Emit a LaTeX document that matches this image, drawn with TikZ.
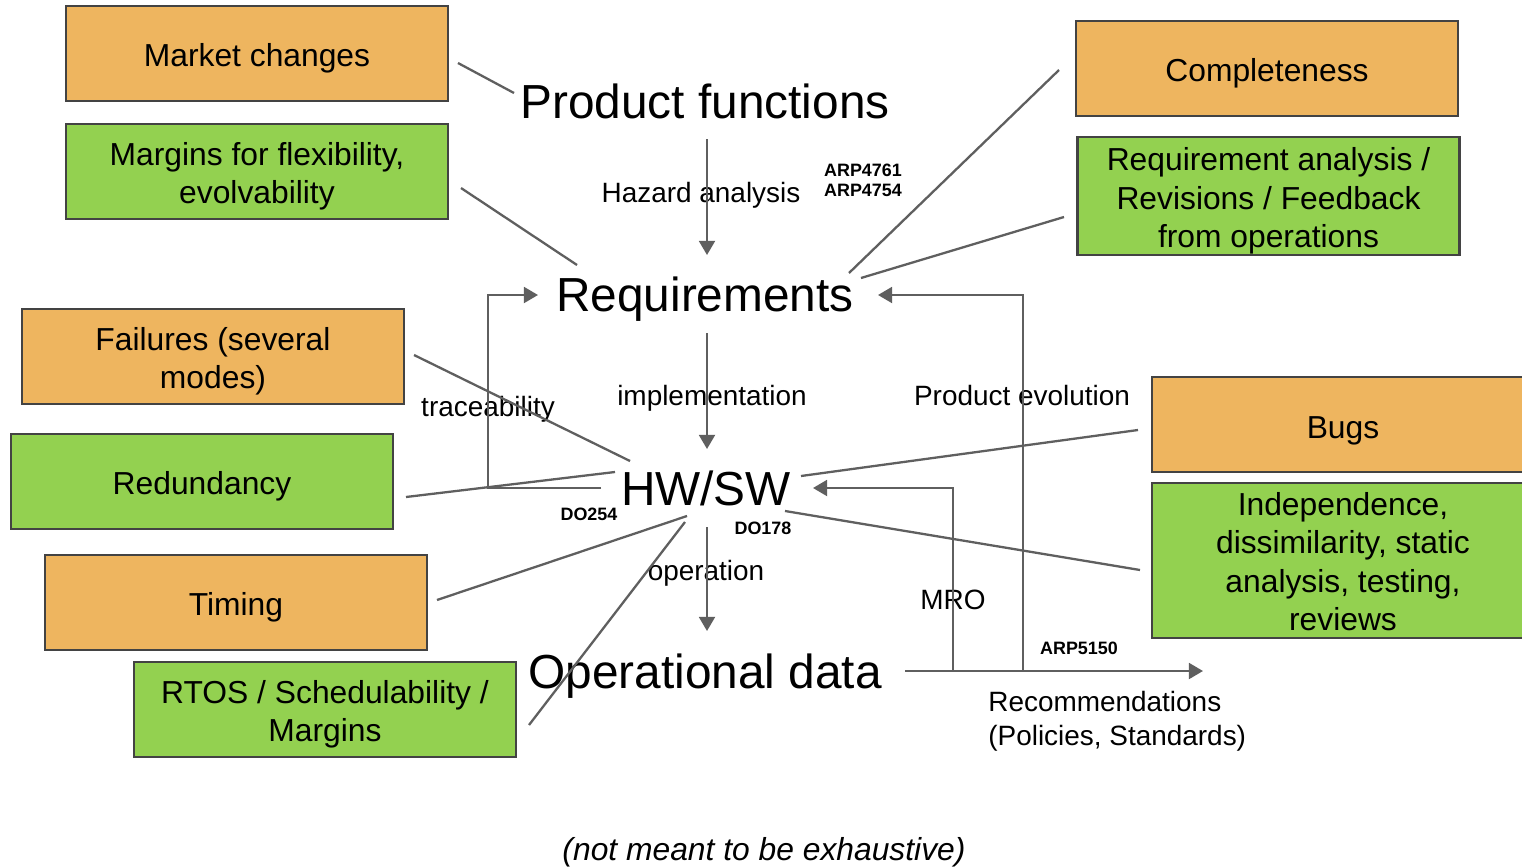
\documentclass[tikz,border=0pt]{standalone}
\usepackage{fontspec}
\setmainfont{Liberation Sans}
\usetikzlibrary{arrows.meta}
\definecolor{boxorange}{HTML}{EEB55F}
\definecolor{boxgreen}{HTML}{93D150}
\definecolor{boxedge}{HTML}{434343}
\definecolor{lncol}{HTML}{5F5F5F}
\newcommand{\boxfont}{\fontsize{18.1pt}{21.8pt}\selectfont}
\begin{document}
\begin{tikzpicture}[x=0.02cm,y=-0.02cm,
  box/.style={draw=boxedge, line width=1.3pt, minimum width=7.64cm, inner sep=0pt, outer sep=0pt},
  obox/.style={box, fill=boxorange},
  gbox/.style={box, fill=boxgreen},
  boxtxt/.style={inner sep=0pt, align=center, font=\boxfont},
  bigtxt/.style={anchor=base, inner sep=0pt, font=\fontsize{27.2pt}{32pt}\selectfont},
  midtxt/.style={anchor=base, inner sep=0pt, font=\fontsize{15.9pt}{19.8pt}\selectfont},
  smtxt/.style={anchor=base, inner sep=0pt, font=\fontsize{10.2pt}{12.4pt}\selectfont\bfseries},
  arr/.style={draw=lncol, line width=1.4pt, line join=miter, -{Triangle[width=9pt,length=8pt]}},
  ln/.style={draw=lncol, line width=1.3pt}
]
\clip (0,0) rectangle (1522,866);
\fill[white] (0,0) rectangle (1522,866);

% boxes
\node[obox, minimum height=1.9cm] (mc) at (257,53.5) {};
\node[gbox, minimum height=1.9cm] (mf) at (257,171.5) {};
\node[obox, minimum height=1.9cm] (cp) at (1267,68.5) {};
\node[gbox, minimum height=2.36cm] (ra) at (1268.5,196) {};
\node[obox, minimum height=1.9cm] (fl) at (213,356.5) {};
\node[gbox, minimum height=1.9cm] (rd) at (202,481.5) {};
\node[obox, minimum height=1.9cm] (bg) at (1343,424.5) {};
\node[gbox, minimum height=3.1cm] (id) at (1343,560.5) {};
\node[obox, minimum height=1.9cm] (tm) at (236,602.5) {};
\node[gbox, minimum height=1.9cm] (rt) at (325,709.5) {};

% box texts
\node[boxtxt] (mct) at ([yshift=-0.1cm]mc.center) {Market changes};
\node[boxtxt] (mft) at ([yshift=-0.1cm]mf.center) {Margins for flexibility,\\evolvability};
\node[boxtxt] (cpt) at ([yshift=-0.1cm]cp.center) {Completeness};
\node[boxtxt] (rat) at ([yshift=-0.1cm]ra.center) {Requirement analysis /\\Revisions / Feedback\\from operations};
\node[boxtxt] (flt) at ([yshift=-0.1cm]fl.center) {Failures (several\\modes)};
\node[boxtxt] (rdt) at ([yshift=-0.1cm]rd.center) {Redundancy};
\node[boxtxt] (bgt) at ([yshift=-0.12cm]bg.center) {Bugs};
\node[boxtxt] (idt) at ([yshift=-0.02cm]id.center) {Independence,\\dissimilarity, static\\analysis, testing,\\reviews};
\node[boxtxt] (tmt) at ([yshift=-0.1cm]tm.center) {Timing};
\node[boxtxt] (rtt) at ([yshift=-0.1cm]rt.center) {RTOS / Schedulability /\\Margins};

% main labels
\node[bigtxt] (pf) at (705,118) {Product functions};
\node[bigtxt] (req) at (705,311) {Requirements};
\node[bigtxt] (hw) at (706,505) {HW/SW};
\node[bigtxt] (od) at (705,688) {Operational data};

% edge labels
\node[midtxt] (lha) at (701,202) {Hazard analysis};
\node[smtxt] (arp1) at (863,176.5) {ARP4761};
\node[smtxt] (arp2) at (863,196.5) {ARP4754};
\node[midtxt] (limp) at (712,405) {implementation};
\node[midtxt] (ltr) at (488,416) {traceability};
\node[midtxt] (lpe) at (1022,405) {Product evolution};
\node[smtxt] (do254) at (589,520.5) {DO254};
\node[smtxt] (do178) at (763,534) {DO178};
\node[midtxt] (lop) at (706,580) {operation};
\node[midtxt] (lmro) at (953,609) {MRO};
\node[smtxt] (arp5) at (1079,654) {ARP5150};
\node[midtxt, anchor=base west] (rec1) at (988,711) {Recommendations};
\node[midtxt, anchor=base west] (rec2) at (988,745) {(Policies, Standards)};
\node[anchor=base, inner sep=0pt, font=\fontsize{18.1pt}{21.8pt}\selectfont\itshape] (cap) at (764,860) {(not meant to be exhaustive)};

% coordinates for connector ends
\coordinate (a1s) at (707,139);
\coordinate (a1e) at (707,255);
\coordinate (a2s) at (707,333);
\coordinate (a2e) at (707,449);
\coordinate (a3s) at (707,527);
\coordinate (a3e) at (707,631);
\coordinate (tr1) at (601,488);
\coordinate (tr2) at (488,488);
\coordinate (tr3) at (488,295);
\coordinate (tr4) at (538,295);
\coordinate (pe1) at (1023,671);
\coordinate (pe2) at (878,295);
\coordinate (mr1) at (953,671);
\coordinate (mr2) at (813,488);
\coordinate (os1) at (905,671);
\coordinate (os2) at (1203,671);

\coordinate (mcA) at (458,63);   \coordinate (mcB) at (514,93);
\coordinate (mfA) at (461,188);  \coordinate (mfB) at (577,265);
\coordinate (cpA) at (1059,70);  \coordinate (cpB) at (849,273);
\coordinate (raA) at (1064,217); \coordinate (raB) at (861,278);
\coordinate (flA) at (414,355);  \coordinate (flB) at (630,461);
\coordinate (rdA) at (406,497);  \coordinate (rdB) at (615,472);
\coordinate (bgA) at (1138,430); \coordinate (bgB) at (801,476);
\coordinate (idA) at (1140,570); \coordinate (idB) at (785,511);
\coordinate (tmA) at (437,600);  \coordinate (tmB) at (687,516);
\coordinate (rtA) at (529,725);  \coordinate (rtB) at (685,522);

% arrows
\draw[arr] (a1s) -- (a1e);
\draw[arr] (a2s) -- (a2e);
\draw[arr] (a3s) -- (a3e);
\draw[arr] (tr1) -- (tr2) -- (tr3) -- (tr4);
\draw[arr] (pe1) |- (pe2);
\draw[arr] (mr1) |- (mr2);
\draw[arr] (os1) -- (os2);

% lines
\draw[ln] (mcA) -- (mcB);
\draw[ln] (mfA) -- (mfB);
\draw[ln] (cpA) -- (cpB);
\draw[ln] (raA) -- (raB);
\draw[ln] (flA) -- (flB);
\draw[ln] (rdA) -- (rdB);
\draw[ln] (bgA) -- (bgB);
\draw[ln] (idA) -- (idB);
\draw[ln] (tmA) -- (tmB);
\draw[ln] (rtA) -- (rtB);
\end{tikzpicture}
\end{document}
